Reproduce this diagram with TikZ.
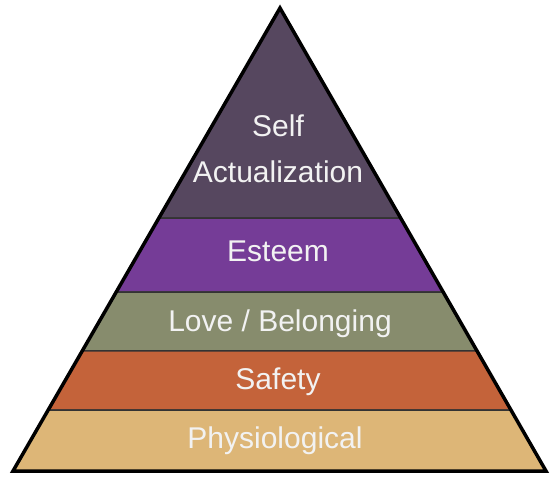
\documentclass[tikz,border=0pt]{standalone}
\usepackage{fontspec}
\setmainfont{Liberation Sans}
\usetikzlibrary{calc}
\definecolor{pyself}{HTML}{56475F}
\definecolor{pyesteem}{HTML}{753C97}
\definecolor{pylove}{HTML}{878C6D}
\definecolor{pysafety}{HTML}{C4633A}
\definecolor{pyphysio}{HTML}{DDB677}

\begin{document}
\begin{tikzpicture}[
  x=1pt, y=-1pt,
  band/.style={draw=black!80, line width=1.5pt},
  outline/.style={draw=black, line width=3.5pt, line join=miter},
  lbl/.style={font=\fontsize{30}{46}\selectfont, text=white!95!black, align=center},
]
\useasboundingbox (0,0) rectangle (551,480);

%% ---- corners ----
\coordinate (apex) at (280,8);
\coordinate (bl) at (13,471);
\coordinate (br) at (546,471);

%% ---- band edges ----
\coordinate (l1) at ($(apex)!0.4536!(bl)$);
\coordinate (r1) at ($(apex)!0.4536!(br)$);
\coordinate (l2) at ($(apex)!0.6134!(bl)$);
\coordinate (r2) at ($(apex)!0.6134!(br)$);
\coordinate (l3) at ($(apex)!0.7408!(bl)$);
\coordinate (r3) at ($(apex)!0.7408!(br)$);
\coordinate (l4) at ($(apex)!0.8683!(bl)$);
\coordinate (r4) at ($(apex)!0.8683!(br)$);

%% ---- bands ----
\filldraw[band, fill=pyself]   (apex) -- (r1) -- (l1) -- cycle;
\filldraw[band, fill=pyesteem] (l1) -- (r1) -- (r2) -- (l2) -- cycle;
\filldraw[band, fill=pylove]   (l2) -- (r2) -- (r3) -- (l3) -- cycle;
\filldraw[band, fill=pysafety] (l3) -- (r3) -- (r4) -- (l4) -- cycle;
\filldraw[band, fill=pyphysio] (l4) -- (r4) -- (br) -- (bl) -- cycle;

%% ---- outline ----
\draw[outline] (apex) -- (br) -- (bl) -- cycle;

%% ---- labels ----
\node[lbl] (self)   at (278,149) {Self\\Actualization};
\node[lbl] (esteem) at (278,251) {Esteem};
\node[lbl] (love)   at (280,324) {Love / Belonging};
\node[lbl] (safety) at (278,382) {Safety};
\node[lbl] (physio) at (275,441) {Physiological};

\end{tikzpicture}
\end{document}
